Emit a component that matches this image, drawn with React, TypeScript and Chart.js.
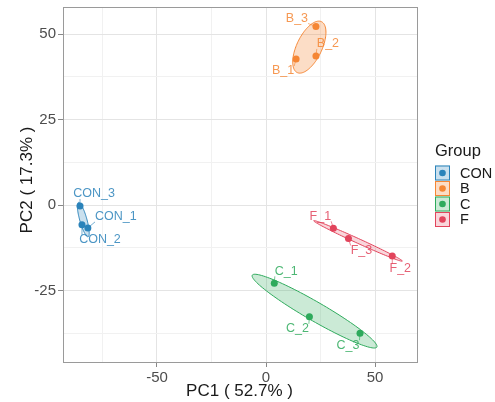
import React, { useEffect, useRef } from "react";
import { Chart, registerables } from "chart.js";

Chart.register(...registerables);

// ---- data ----
const groupNames = ["CON", "B", "C", "F"];
const conNames = ["CON_1", "CON_2", "CON_3"];
const conPC1 = [-81.7, -84.4, -85.3];
const conPC2 = [-6.7, -5.8, -0.3];
const bNames = ["B_1", "B_2", "B_3"];
const bPC1 = [13.8, 22.9, 22.9];
const bPC2 = [42.7, 43.6, 52.2];
const cNames = ["C_1", "C_2", "C_3"];
const cPC1 = [3.8, 19.9, 43.1];
const cPC2 = [-22.9, -32.7, -37.5];
const fNames = ["F_1", "F_2", "F_3"];
const fPC1 = [30.9, 57.9, 37.8];
const fPC2 = [-6.8, -14.9, -9.8];

const xTickValues = [-75, -50, -25, 0, 25, 50];
const xMajorTicks = [-50, 0, 50];
const yTickValues = [-37.5, -25, -12.5, 0, 12.5, 25, 37.5, 50];
const yMajorTicks = [-25, 0, 25, 50];
const xRange = [-93.1, 69.7];
const yRange = [-46.2, 57.9];

const xTitle = "PC1 ( 52.7% )";
const yTitle = "PC2 ( 17.3% )";
const legendTitle = "Group";

// ---- styles ----
const colors = ["#2b83ba", "#f58634", "#2eaa5c", "#e2445c"];
const fills = [
  "rgba(43,131,186,0.25)",
  "rgba(245,134,52,0.28)",
  "rgba(46,170,92,0.25)",
  "rgba(226,68,92,0.22)",
];
// label offsets in pixels (ggrepel-like placement), same order as names
const labelOffsets = [
  [[28, -11], [18, 15], [14, -12]],
  [[-13, 12], [12, -12], [-19, -8]],
  [[12, -12], [-12, 12], [-12, 12]],
  [[-13, -12], [8, 13], [13, 12]],
];
const ellipseScale = 1.45;
const FONT = "'Liberation Sans', Arial, Helvetica, sans-serif";

const groupsData = [
  { names: conNames, x: conPC1, y: conPC2 },
  { names: bNames, x: bPC1, y: bPC2 },
  { names: cNames, x: cPC1, y: cPC2 },
  { names: fNames, x: fPC1, y: fPC2 },
];

function ellipsePoints(xs: number[], ys: number[], k: number, n = 120) {
  const m = xs.length;
  const mx = xs.reduce((a, b) => a + b, 0) / m;
  const my = ys.reduce((a, b) => a + b, 0) / m;
  let sxx = 0, syy = 0, sxy = 0;
  for (let i = 0; i < m; i++) {
    const dx = xs[i] - mx, dy = ys[i] - my;
    sxx += dx * dx; syy += dy * dy; sxy += dx * dy;
  }
  sxx /= m - 1; syy /= m - 1; sxy /= m - 1;
  const tr = (sxx + syy) / 2;
  const det = Math.sqrt(((sxx - syy) / 2) ** 2 + sxy * sxy);
  const l1 = tr + det, l2 = Math.max(tr - det, 0);
  const theta = 0.5 * Math.atan2(2 * sxy, sxx - syy);
  const c = Math.cos(theta), s = Math.sin(theta);
  const pts: { x: number; y: number }[] = [];
  for (let i = 0; i <= n; i++) {
    const t = (i / n) * Math.PI * 2;
    const a = k * Math.sqrt(l1) * Math.cos(t);
    const b = k * Math.sqrt(l2) * Math.sin(t);
    pts.push({ x: mx + a * c - b * s, y: my + a * s + b * c });
  }
  return pts;
}

const pcaPlugin = {
  id: "pcaPlugin",
  beforeDatasetsDraw(chart: any) {
    const { ctx, chartArea, scales } = chart;
    const xs = scales.x, ys = scales.y;
    ctx.save();
    ctx.beginPath();
    ctx.rect(chartArea.left, chartArea.top, chartArea.right - chartArea.left, chartArea.bottom - chartArea.top);
    ctx.clip();
    groupsData.forEach((g, gi) => {
      const pts = ellipsePoints(g.x, g.y, ellipseScale);
      ctx.beginPath();
      pts.forEach((p, i) => {
        const px = xs.getPixelForValue(p.x), py = ys.getPixelForValue(p.y);
        if (i === 0) ctx.moveTo(px, py); else ctx.lineTo(px, py);
      });
      ctx.closePath();
      ctx.fillStyle = fills[gi];
      ctx.fill();
      ctx.strokeStyle = colors[gi];
      ctx.lineWidth = 1;
      ctx.stroke();
    });
    ctx.restore();
  },
  afterDatasetsDraw(chart: any) {
    const { ctx, scales } = chart;
    const xs = scales.x, ys = scales.y;
    ctx.save();
    ctx.font = `12.5px ${FONT}`;
    ctx.textAlign = "center";
    ctx.textBaseline = "middle";
    groupsData.forEach((g, gi) => {
      g.names.forEach((name, i) => {
        const px = xs.getPixelForValue(g.x[i]);
        const py = ys.getPixelForValue(g.y[i]);
        const [dx, dy] = labelOffsets[gi][i];
        const lx = px + dx, ly = py + dy;
        const w = ctx.measureText(name).width;
        const h = 10;
        const bx = Math.max(lx - w / 2, Math.min(px, lx + w / 2));
        const by = Math.max(ly - h / 2, Math.min(py, ly + h / 2));
        const dist = Math.hypot(bx - px, by - py);
        if (dist > 4) {
          ctx.strokeStyle = colors[gi];
          ctx.globalAlpha = 0.8;
          ctx.lineWidth = 0.8;
          ctx.beginPath();
          ctx.moveTo(px, py);
          ctx.lineTo(bx, by);
          ctx.stroke();
        }
        ctx.globalAlpha = 0.85;
        ctx.fillStyle = colors[gi];
        ctx.fillText(name, lx, ly);
        ctx.globalAlpha = 1;
      });
    });
    ctx.restore();
  },
  afterDraw(chart: any) {
    const { ctx, chartArea } = chart;
    ctx.save();
    // panel border
    ctx.strokeStyle = "#9a9a9a";
    ctx.lineWidth = 1;
    ctx.strokeRect(
      Math.round(chartArea.left) + 0.5,
      Math.round(chartArea.top) + 0.5,
      Math.round(chartArea.right - chartArea.left) - 1,
      Math.round(chartArea.bottom - chartArea.top) - 1
    );
    // axis titles
    ctx.fillStyle = "#1a1a1a";
    ctx.font = `17px ${FONT}`;
    ctx.textAlign = "center";
    ctx.textBaseline = "middle";
    ctx.fillText(xTitle, (chartArea.left + chartArea.right) / 2 - 1, 391);
    ctx.save();
    ctx.translate(27, 180);
    ctx.rotate(-Math.PI / 2);
    ctx.fillText(yTitle, 0, 0);
    ctx.restore();
    // legend
    const lx = 435;
    ctx.textAlign = "left";
    ctx.font = `16.5px ${FONT}`;
    ctx.fillStyle = "#1a1a1a";
    ctx.fillText(legendTitle, lx, 151);
    const keySize = 15, step = 15.5, ky0 = 165.5;
    groupNames.forEach((gname, gi) => {
      const ky = ky0 + gi * step;
      ctx.fillStyle = fills[gi];
      ctx.fillRect(lx, ky, keySize, keySize);
      ctx.strokeStyle = colors[gi];
      ctx.lineWidth = 1;
      ctx.strokeRect(lx + 0.5, ky + 0.5, keySize - 1, keySize - 1);
      ctx.fillStyle = colors[gi];
      ctx.beginPath();
      ctx.arc(lx + keySize / 2, ky + keySize / 2, 3.3, 0, Math.PI * 2);
      ctx.fill();
      ctx.fillStyle = "#1a1a1a";
      ctx.font = `14.5px ${FONT}`;
      ctx.fillText(gname, 460, ky + keySize / 2 + 0.5);
    });
    ctx.restore();
  },
};

export default function App() {
  const ref = useRef<HTMLCanvasElement | null>(null);
  useEffect(() => {
    if (!ref.current) return;
    const chart = new Chart(ref.current, {
      type: "scatter",
      data: {
        datasets: groupsData.map((g, gi) => ({
          label: groupNames[gi],
          data: g.x.map((v, i) => ({ x: v, y: g.y[i] })),
          backgroundColor: colors[gi],
          borderColor: colors[gi],
          borderWidth: 0,
          pointRadius: 3.5,
        })),
      },
      options: {
        animation: false,
        responsive: false,
        devicePixelRatio: 1,
        layout: { padding: { top: 7, right: 77, left: 0, bottom: 0 } },
        plugins: { legend: { display: false }, tooltip: { enabled: false } },
        scales: {
          x: {
            type: "linear",
            min: xRange[0],
            max: xRange[1],
            afterBuildTicks: (scale: any) => {
              scale.ticks = xTickValues.map((v) => ({ value: v }));
            },
            afterFit: (scale: any) => {
              scale.height = 39;
              scale.paddingLeft = 0;
              scale.paddingRight = 0;
            },
            border: { display: false },
            grid: {
              color: (c: any) => (xMajorTicks.includes(c.tick?.value) ? "#e4e4e4" : "#f1f1f1"),
              tickColor: (c: any) => (xMajorTicks.includes(c.tick?.value) ? "#888" : "rgba(0,0,0,0)"),
              tickLength: 4,
              lineWidth: 1,
            },
            ticks: {
              autoSkip: false,
              maxRotation: 0,
              padding: 2,
              color: "#4d4d4d",
              font: { family: FONT, size: 15 },
              callback: (v: any) => (xMajorTicks.includes(v) ? String(v) : ""),
            },
          },
          y: {
            type: "linear",
            min: yRange[0],
            max: yRange[1],
            afterBuildTicks: (scale: any) => {
              scale.ticks = yTickValues.map((v) => ({ value: v }));
            },
            afterFit: (scale: any) => {
              scale.width = 63;
              scale.paddingTop = 0;
              scale.paddingBottom = 0;
            },
            border: { display: false },
            grid: {
              color: (c: any) => (yMajorTicks.includes(c.tick?.value) ? "#e4e4e4" : "#f1f1f1"),
              tickColor: (c: any) => (yMajorTicks.includes(c.tick?.value) ? "#888" : "rgba(0,0,0,0)"),
              tickLength: 5,
              lineWidth: 1,
            },
            ticks: {
              autoSkip: false,
              padding: 2,
              color: "#4d4d4d",
              font: { family: FONT, size: 15 },
              callback: (v: any) => (yMajorTicks.includes(v) ? String(v) : ""),
            },
          },
        },
      },
      plugins: [pcaPlugin],
    });
    return () => chart.destroy();
  }, []);
  return (
    <div style={{ position: "absolute", left: 0, top: 0, width: 495, height: 402, background: "#fff" }}>
      <canvas ref={ref} width={495} height={402} style={{ display: "block", width: 495, height: 402 }} />
    </div>
  );
}
